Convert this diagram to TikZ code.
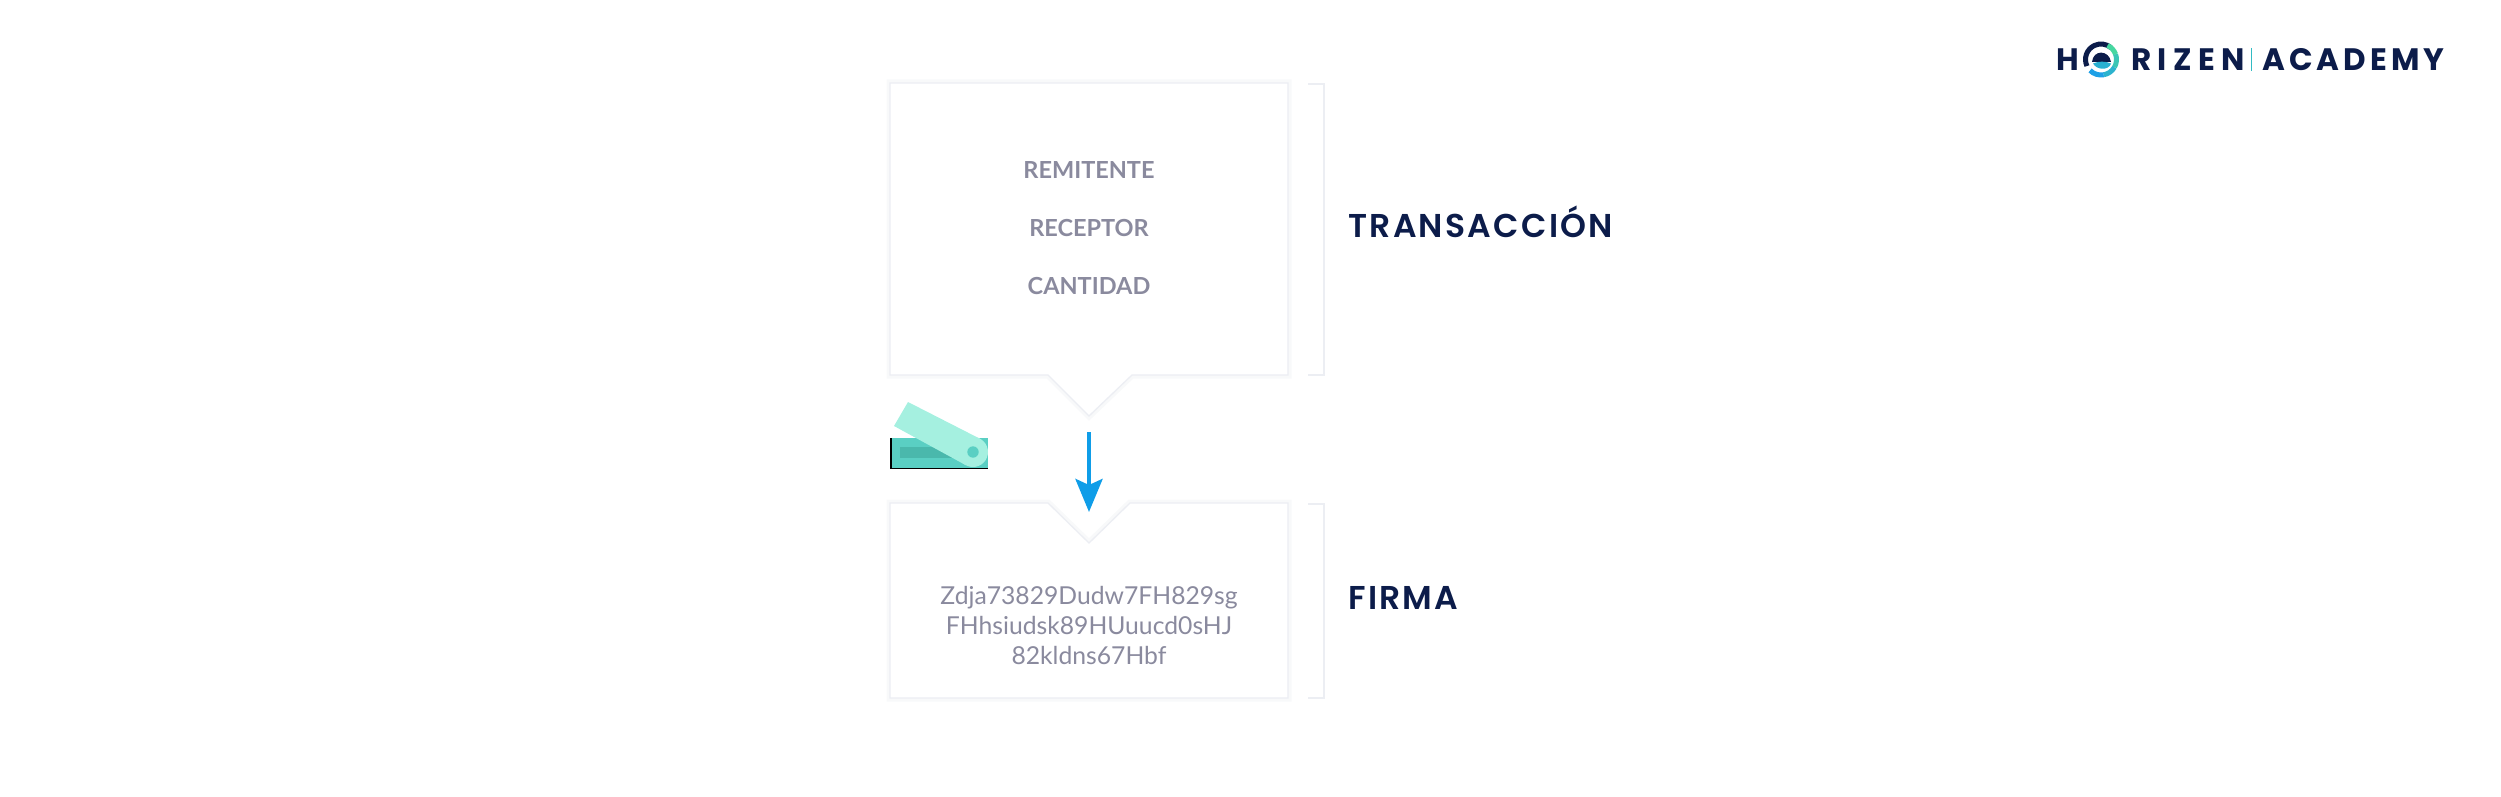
\documentclass[tikz,border=0pt]{standalone}
\usepackage{fontspec}
\setmainfont{Lato}
\newfontfamily\headfont[LetterSpace=7, UprightFont=* SemiBold]{Poppins}
\newfontfamily\logofont[LetterSpace=13]{Poppins}
\newfontfamily\logowide[LetterSpace=21]{Poppins}
\usetikzlibrary{arrows.meta}
\definecolor{navy1}{RGB}{12, 28, 74}
\definecolor{greytext}{RGB}{138, 138, 158}
\definecolor{edgeline}{RGB}{236, 238, 243}
\definecolor{edgesoft}{RGB}{248, 249, 250}
\definecolor{arrowblue}{RGB}{15, 157, 232}
\definecolor{baseteal}{RGB}{90, 207, 195}
\definecolor{darkteal}{RGB}{74, 184, 172}
\definecolor{lidteal}{RGB}{165, 240, 224}
\definecolor{logogreen}{RGB}{70, 215, 160}
\definecolor{logoblue}{RGB}{30, 160, 230}
\tikzset{
  softbox/.style={draw=edgeline, line width=1.3pt, fill=white, line join=miter,
    preaction={draw=edgesoft, line width=7pt}},
  softbracket/.style={draw=edgeline, line width=1.5pt},
  itemtext/.style={font=\bfseries\fontsize{23.5}{24}\selectfont, text=greytext, inner sep=0pt},
  sigtext/.style={font=\fontsize{24.7}{30}\selectfont, text=greytext, inner sep=0pt, align=center},
  headtext/.style={font=\headfont\fontsize{33}{33}\selectfont, text=navy1, inner sep=0pt, anchor=west},
  logotext/.style={font=\logofont\bfseries\fontsize{31}{31}\selectfont, text=navy1, inner sep=0pt},
}
\begin{document}
\begin{tikzpicture}[x=1pt, y=-1pt]
  \useasboundingbox (0,0) rectangle (2501,797);

  % ===== TRANSACTION BOX =====
  \draw[softbox] (890,83) -- (1288,83) -- (1288,375) -- (1132,375) -- (1089,416) -- (1048,375) -- (890,375) -- cycle;
  \node[itemtext] (sender) at (1089,170.5) {REMITENTE};
  \node[itemtext] (receiver) at (1089,228) {RECEPTOR};
  \node[itemtext] (amount) at (1089,286.5) {CANTIDAD};
  \draw[softbracket] (1308,84) -- (1324,84) -- (1324,375) -- (1308,375);
  \node[headtext] (txlabel) at (1348,222) {TRANSACCIÓN};

  % ===== SIGNATURE BOX =====
  \draw[softbox] (890,503) -- (1048,503) -- (1089,543) -- (1130,503) -- (1288,503) -- (1288,698) -- (890,698) -- cycle;
  \node[sigtext] (signature) at (1089,625) {Zdja73829Dudw7FH829sg\\FHhsiudsk89HUuucd0sHJ\\82kldns67Hbf};
  \draw[softbracket] (1308,504) -- (1324,504) -- (1324,698) -- (1308,698);
  \node[headtext] (siglabel) at (1348,598) {FIRMA};

  % Arrow
  \coordinate (arrowtop) at (1089,432);
  \coordinate (arrowend) at (1089,512);
  \draw[-{Stealth[length=33pt, width=27pt, inset=6pt]}, line width=4.3pt, arrowblue] (arrowtop) -- (arrowend);

  % Hardware wallet
  \fill[black] (889.5,438) rectangle (988,469);
  \fill[baseteal] (891.5,438) rectangle (988,467.5);
  \fill[darkteal] (900,447) rectangle (960,458);
  \fill[lidteal] (894,426) -- (908,402) -- (979.9,438.7) -- (966,465.3) -- cycle;
  \fill[lidteal] (973,452) circle (15);
  \fill[baseteal] (973,452) circle (5.7);

  % ===== LOGO =====
  \node[logotext, anchor=west] (logoh) at (2056,59.5) {H};
  \node[logotext, font=\logowide\bfseries\fontsize{31}{31}\selectfont, anchor=west] (logorizen) at (2131,59.5) {RIZEN};
  \node[logotext, anchor=west] (logoacad) at (2262,59.5) {ACADEMY};
  \draw[line width=0.8pt, logogreen!50!logoblue] (2251,48) -- (2251,71);
  \begin{scope}[shift={(2101,59.5)}, x=1pt, y=1pt]
    \draw[navy1, line width=5pt] (205:15.5) arc (205:50:15.5);
    \foreach \angA/\angB/\mixval in {65/20/100, 20/-30/70, -30/-80/35, -80/-135/0} {
      \draw[logogreen!\mixval!logoblue, line width=5pt] (\angA:15.5) arc (\angA:\angB:15.5);
    }
    \fill[navy1] (-9,-2.5) .. controls (-8,10) and (8,10) .. (10,-2.5) -- cycle;
    \fill[logoblue!70!logogreen] (-8,-4) .. controls (-2,-1.5) and (4,-1.5) .. (10,-4) .. controls (8,-11) and (-4,-11) .. (-8,-4) -- cycle;
  \end{scope}
\end{tikzpicture}
\end{document}
